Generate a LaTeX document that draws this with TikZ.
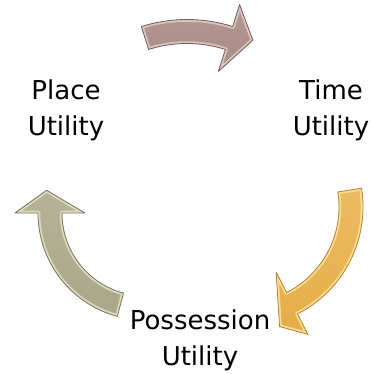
\documentclass[tikz,border=0pt]{standalone}
\usepackage{fontspec}
\setmainfont{DejaVu Sans}
\usetikzlibrary{positioning}

\definecolor{mauvelight}{HTML}{D9C5BF}
\definecolor{mauvemid}{HTML}{A88A83}
\definecolor{mauvedark}{HTML}{735A55}
\definecolor{goldlight}{HTML}{F9DC96}
\definecolor{goldmid}{HTML}{E5AD48}
\definecolor{golddark}{HTML}{B4832B}
\definecolor{khakilight}{HTML}{DCD9C3}
\definecolor{khakimid}{HTML}{AAA688}
\definecolor{khakidark}{HTML}{77735A}

% curved arrow: center, radius, start angle, head angle, tip (polar),
% fill style, rim colour, edge colour
\newcommand{\cyclearrow}[8]{%
  \pgfmathsetmacro\cyRo{#2+12}%
  \pgfmathsetmacro\cyRi{#2-12}%
  \pgfmathsetmacro\cyWo{#2+35}%
  \pgfmathsetmacro\cyWi{#2-35}%
  \def\cypath{(#3:\cyRo pt) arc[start angle=#3, end angle=#4, radius=\cyRo pt]
      -- (#4:\cyWo pt) -- (#5) -- (#4:\cyWi pt) -- (#4:\cyRi pt)
      arc[start angle=#4, end angle=#3, radius=\cyRi pt] -- cycle}%
  \begin{scope}[shift={(#1)}]
    \path[#6] \cypath;
    \begin{scope}
      \clip \cypath;
      \draw[#7, line width=4.5pt, line join=round] \cypath;
    \end{scope}
    \draw[#8, line width=0.8pt, line join=round] \cypath;
  \end{scope}}

\begin{document}
\begin{tikzpicture}[
    x=1pt, y=1pt,
    label/.style={align=center, font=\fontsize{26}{36}\selectfont, inner sep=0pt},
    topfill/.style={top color=mauvemid!75!mauvelight, bottom color=mauvemid},
    rightfill/.style={top color=goldmid!70!goldlight, bottom color=goldmid},
    leftfill/.style={top color=khakimid!75!khakilight, bottom color=khakimid}
]
\useasboundingbox (0,0) rectangle (373,374);

\node[label] (place) at (66,264) {Place\\Utility};
\node[label] (time) at (331,264) {Time\\Utility};
\node[label] (possession) at (200,34) {Possession\\Utility};

\coordinate (topc) at (187,203.5);
\coordinate (rightc) at (243,167);
\coordinate (leftc) at (145,161);

\cyclearrow{topc}{139}{107.6}{72.4}{63.2:146pt}{topfill}{mauvelight}{mauvedark}
\cyclearrow{rightc}{108}{9}{-63}{-73:125pt}{rightfill}{goldlight}{golddark}
\cyclearrow{leftc}{95}{255}{180}{167:101pt}{leftfill}{khakilight}{khakidark}
\end{tikzpicture}
\end{document}
